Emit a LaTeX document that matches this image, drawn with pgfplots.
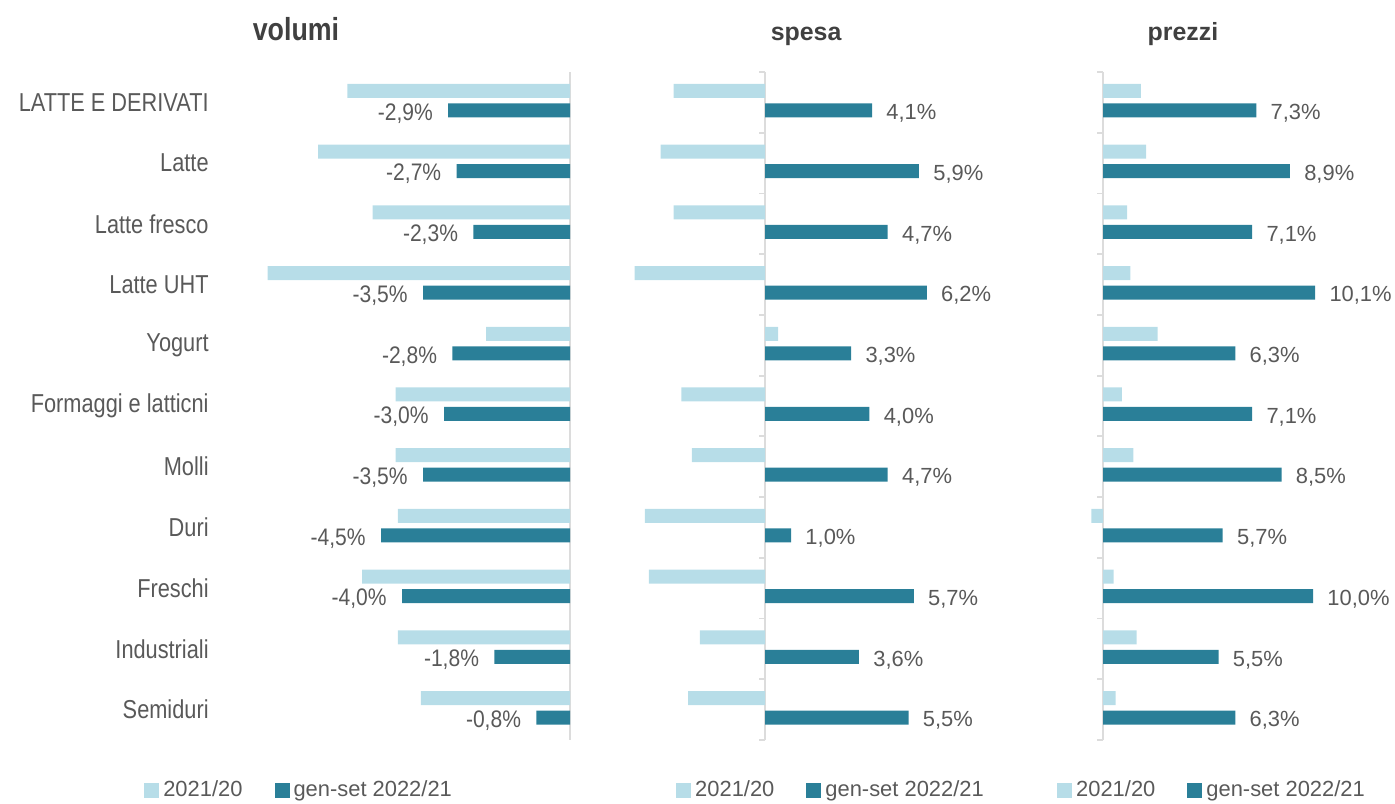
\documentclass[border=0pt]{standalone}
\usepackage{fontspec}
\setmainfont{Liberation Sans}
\newfontfamily\narrowfont[FakeStretch=0.84]{Liberation Sans}
\newfontfamily\narrowb[FakeStretch=0.88]{Liberation Sans}
\usepackage{pgfplots}
\pgfplotsset{compat=1.18}
\usepackage{pgfplotstable}
\definecolor{lightbar}{RGB}{183,221,232}
\definecolor{darkbar}{RGB}{42,127,152}
\definecolor{txt}{RGB}{89,89,89}
\definecolor{ttl}{RGB}{64,64,64}
\definecolor{axl}{RGB}{220,220,220}

\pgfplotstableread{
y  vl     vd    sl     sd   pl     pd
10 -5.3   -2.9  -3.5   4.1  1.8    7.3
9  -6.0   -2.7  -4.0   5.9  2.05   8.9
8  -4.7   -2.3  -3.5   4.7  1.15   7.1
7  -7.2   -3.5  -5.0   6.2  1.3    10.1
6  -2.0   -2.8   0.5   3.3  2.6    6.3
5  -4.15  -3.0  -3.2   4.0  0.9    7.1
4  -4.15  -3.5  -2.8   4.7  1.45   8.5
3  -4.1   -4.5  -4.6   1.0  -0.55  5.7
2  -4.95  -4.0  -4.45  5.7  0.5    10.0
1  -4.1   -1.8  -2.5   3.6  1.6    5.5
0  -3.55  -0.8  -2.95  5.5  0.6    6.3
}\data

\pgfplotsset{
  panel/.style={
    xbar, scale only axis, height=334bp, ymin=-0.5, ymax=10.5,
    axis line style={draw=none}, xtick=\empty, ytick=\empty,
    tick style={draw=none}, major tick length=0pt,
    clip=false,
    extra x ticks={0}, extra x tick labels={},
    extra x tick style={grid=major, major grid style={axl, line width=0.9pt}, major tick length=0pt},
    bar width=7bp,
    legend columns=2,
    legend cell align=left,
    legend style={draw=none, fill=none, font=\fontsize{11}{13}\selectfont, text=txt,
      /tikz/every even column/.append style={column sep=14bp}, anchor=center, inner sep=0pt,
      nodes={inner sep=2bp}},
    legend image code/.code={\draw[##1,draw=none] (-2bp,-3.75bp) rectangle (5.5bp,3.75bp);},
    title style={anchor=base, yshift=10bp, text=ttl},
    /pgf/number format/.cd, fixed, fixed zerofill, precision=1, use comma, assume math mode=true,
  },
  lightp/.style={fill=lightbar, draw=none, bar shift=5.75bp},
  darkp/.style={fill=darkbar, draw=none, bar shift=-4bp, point meta=x,
    nodes near coords={\pgfmathprintnumber{\pgfplotspointmeta}\%}},
}

\begin{document}
\begin{tikzpicture}
\useasboundingbox (0,0) rectangle (697.5bp,402bp);

% volumi
\begin{axis}[panel, at={(106.5bp,32bp)}, anchor=south west,
  width=178.5bp, xmin=-8.5, xmax=0,
  ytick={0,...,10},
  yticklabels={Semiduri,Industriali,Freschi,Duri,Molli,Formaggi e latticni,Yogurt,Latte UHT,Latte fresco,Latte,LATTE E DERIVATI},
  yticklabel style={font=\narrowfont\fontsize{13}{15}\selectfont, text=txt, inner sep=2bp},
  title={volumi},
  title style={at={(0.2325,1)}, font=\narrowfont\fontsize{16}{18}\selectfont\bfseries},
  legend style={at={(0.244,-0.075)}},
  nodes near coords style={anchor=east, inner sep=0pt, xshift=-7.5bp, yshift=-1.5bp,
    font=\narrowb\fontsize{12}{14}\selectfont, text=txt},
]
\addplot[lightp] table[x=vl, y=y] {\data};
\addplot[darkp] table[x=vd, y=y] {\data};
\legend{2021/20, gen-set 2022/21}
\end{axis}

% spesa
\begin{axis}[panel, at={(304.2bp,32bp)}, anchor=south west,
  width=182.7bp, xmin=-6, xmax=8,
  title={spesa},
  title style={at={(0.541,1)}, font=\fontsize{12.5}{15}\selectfont\bfseries},
  legend style={at={(0.612,-0.075)}},
  nodes near coords style={anchor=west, inner sep=0pt, xshift=7bp, yshift=-1.5bp,
    font=\fontsize{11}{13}\selectfont, text=txt},
]
\pgfplotsinvokeforeach{-0.5,0.5,...,10.5}{\draw[axl, line width=0.9pt] (axis cs:0,#1) -- ([xshift=-3bp]axis cs:0,#1);}
\addplot[lightp] table[x=sl, y=y] {\data};
\addplot[darkp] table[x=sd, y=y] {\data};
\legend{2021/20, gen-set 2022/21}
\end{axis}

% prezzi
\begin{axis}[panel, at={(530.5bp,32bp)}, anchor=south west,
  width=147bp, xmin=-2, xmax=12,
  title={prezzi},
  title style={at={(0.415,1)}, font=\fontsize{12.5}{15}\selectfont\bfseries},
  legend style={at={(0.517,-0.075)}},
  nodes near coords style={anchor=west, inner sep=0pt, xshift=7bp, yshift=-1.5bp,
    font=\fontsize{11}{13}\selectfont, text=txt},
]
\pgfplotsinvokeforeach{-0.5,0.5,...,10.5}{\draw[axl, line width=0.9pt] (axis cs:0,#1) -- ([xshift=-3bp]axis cs:0,#1);}
\addplot[lightp] table[x=pl, y=y] {\data};
\addplot[darkp] table[x=pd, y=y] {\data};
\legend{2021/20, gen-set 2022/21}
\end{axis}
\end{tikzpicture}
\end{document}
